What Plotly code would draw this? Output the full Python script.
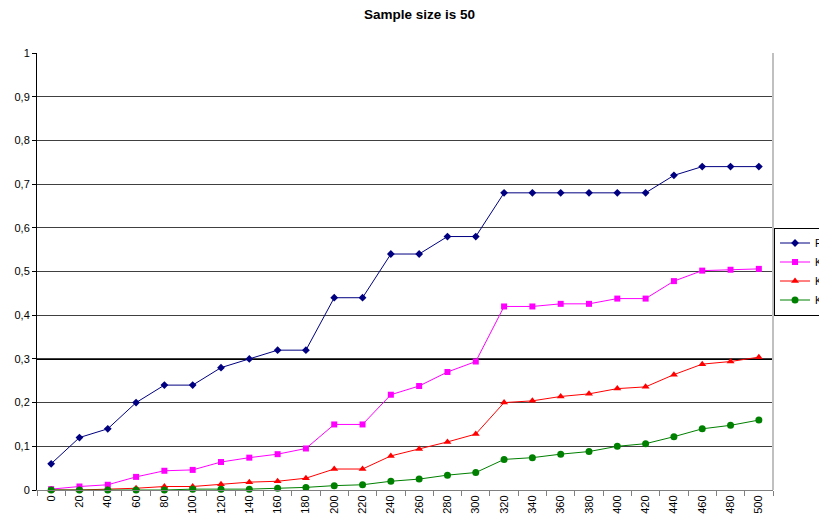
import plotly.graph_objects as go

sizes = [str(v) for v in range(0, 501, 20)]
f1 = [0.06, 0.12, 0.14, 0.20, 0.24, 0.24, 0.28, 0.30, 0.32, 0.32, 0.44, 0.44, 0.54,
      0.54, 0.58, 0.58, 0.68, 0.68, 0.68, 0.68, 0.68, 0.68, 0.72, 0.74, 0.74, 0.74]
k2 = [0.002, 0.008, 0.012, 0.03, 0.044, 0.046, 0.064, 0.074, 0.082, 0.095, 0.15, 0.15, 0.218,
      0.238, 0.27, 0.294, 0.42, 0.42, 0.426, 0.426, 0.438, 0.438, 0.478, 0.502, 0.504, 0.506]
k3 = [0.0, 0.0, 0.002, 0.004, 0.008, 0.008, 0.013, 0.018, 0.02, 0.027, 0.048, 0.048, 0.078,
      0.094, 0.11, 0.128, 0.2, 0.204, 0.214, 0.22, 0.232, 0.236, 0.264, 0.288, 0.294, 0.304]
k4 = [0.0, 0.0, 0.0, 0.0, 0.0, 0.002, 0.002, 0.002, 0.004, 0.006, 0.01, 0.012, 0.02,
      0.025, 0.034, 0.04, 0.07, 0.074, 0.082, 0.088, 0.1, 0.106, 0.122, 0.14, 0.148, 0.16]
ytick_vals = [0, 0.1, 0.2, 0.3, 0.4, 0.5, 0.6, 0.7, 0.8, 0.9, 1]
ytick_text = ["0", "0,1", "0,2", "0,3", "0,4", "0,5", "0,6", "0,7", "0,8", "0,9", "1"]
title_text = "Sample size is 50"

series = [
    ("F1", f1, "#000080", "diamond", 6),
    ("K2", k2, "#FF00FF", "square", 6),
    ("K3", k3, "#FF0000", "triangle-up", 7),
    ("K4", k4, "#008000", "circle", 7),
]

# The page body has an 8px margin, so the figure is 8px smaller than the window
W, H = 819, 519
ML, MR, MT, MB = 29, 54, 45, 37

fig = go.Figure()
for name, vals, col, sym, sz in series:
    fig.add_trace(go.Scatter(
        x=sizes, y=vals, name=name, mode="lines+markers",
        line=dict(color=col, width=1),
        marker=dict(color=col, symbol=sym, size=sz),
        cliponaxis=False,
    ))

fig.add_shape(type="line", xref="paper", yref="y", x0=0, x1=1, y0=0.3, y1=0.3,
              line=dict(color="black", width=2), layer="below")
fig.add_shape(type="line", xref="paper", yref="paper", x0=1, x1=1, y0=0, y1=1,
              line=dict(color="#C0C0C0", width=2))

fig.add_annotation(text="<b>" + title_text + "</b>", xref="paper", yref="paper",
                   x=0.52, y=1.1098, xanchor="center", yanchor="top", showarrow=False,
                   font=dict(size=13.5, color="black"))

fig.update_layout(
    width=W, height=H,
    margin=dict(l=ML, r=MR, t=MT, b=MB, autoexpand=False),
    paper_bgcolor="white", plot_bgcolor="white",
    font=dict(family="Liberation Sans, Arial, sans-serif", size=11, color="black"),
    showlegend=True,
    legend=dict(x=1.0014, xanchor="left", y=0.5, yanchor="middle",
                bordercolor="black", borderwidth=1, bgcolor="white",
                font=dict(size=10.5), itemwidth=30, tracegroupgap=0),
    xaxis=dict(type="category", range=[-0.5, 25.5], tickangle=-90, tickson="boundaries",
               ticks="outside", ticklen=5, tickcolor="#808080", showline=True,
               linecolor="#808080", showgrid=False, tickfont=dict(size=11), automargin=False),
    yaxis=dict(range=[0, 1], tickvals=ytick_vals, ticktext=ytick_text, ticks="outside",
               ticklen=4, tickcolor="black", showline=True, linecolor="black",
               showgrid=True, gridcolor="#404040", gridwidth=1, zeroline=False,
               tickfont=dict(size=11), automargin=False),
)

fig.write_html("out.html")
